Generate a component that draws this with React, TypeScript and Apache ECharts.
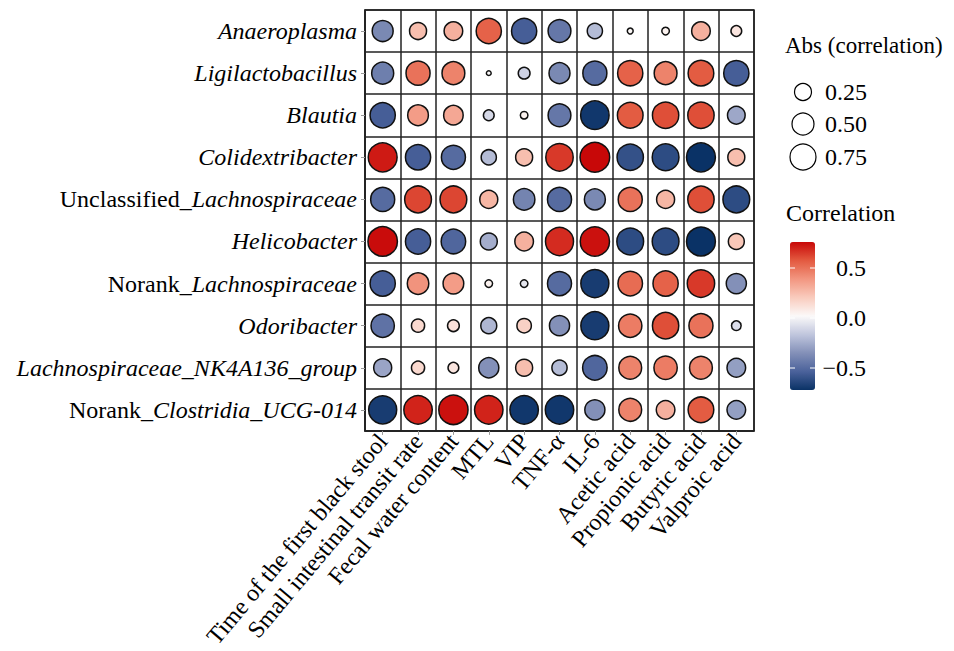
import React, { useEffect, useRef } from "react";
import * as echarts from "echarts";

const variables = [
  "Time of the first black stool",
  "Small intestinal transit rate",
  "Fecal water content",
  "MTL",
  "VIP",
  "TNF-α",
  "IL-6",
  "Acetic acid",
  "Propionic acid",
  "Butyric acid",
  "Valproic acid",
];

const taxa = [
  "Anaeroplasma",
  "Ligilactobacillus",
  "Blautia",
  "Colidextribacter",
  "Unclassified_Lachnospiraceae",
  "Helicobacter",
  "Norank_Lachnospiraceae",
  "Odoribacter",
  "Lachnospiraceae_NK4A136_group",
  "Norank_Clostridia_UCG-014",
];

// correlation per taxon (rows), columns in `variables` order
const rAnaeroplasma = [-0.38, 0.25, 0.3, 0.55, -0.55, -0.45, -0.2, 0.03, 0.05, 0.3, 0.1];
const rLigilactobacillus = [-0.42, 0.5, 0.45, 0.02, -0.12, -0.38, -0.5, 0.55, 0.45, 0.57, -0.55];
const rBlautia = [-0.55, 0.37, 0.33, -0.1, 0.05, -0.45, -0.7, 0.57, 0.6, 0.6, -0.27];
const rColidextribacter = [0.72, -0.55, -0.5, -0.2, 0.25, 0.65, 0.76, -0.6, -0.62, -0.72, 0.25];
const rUnclLachno = [-0.5, 0.62, 0.62, 0.28, -0.4, -0.5, -0.38, 0.5, 0.28, 0.6, -0.62];
const rHelicobacter = [0.75, -0.55, -0.52, -0.25, 0.3, 0.68, 0.74, -0.62, -0.62, -0.72, 0.22];
const rNorankLachno = [-0.55, 0.4, 0.37, 0.05, -0.05, -0.5, -0.68, 0.52, 0.55, 0.65, -0.35];
const rOdoribacter = [-0.47, 0.15, 0.12, -0.22, 0.18, -0.35, -0.68, 0.47, 0.6, 0.5, -0.08];
const rNK4A136 = [-0.28, 0.15, 0.1, -0.35, 0.25, -0.2, -0.52, 0.45, 0.47, 0.45, -0.3];
const rClostridia = [-0.68, 0.7, 0.74, 0.7, -0.7, -0.7, -0.35, 0.45, 0.3, 0.57, -0.3];

const rows = [
  rAnaeroplasma,
  rLigilactobacillus,
  rBlautia,
  rColidextribacter,
  rUnclLachno,
  rHelicobacter,
  rNorankLachno,
  rOdoribacter,
  rNK4A136,
  rClostridia,
];

const sizeLegendValues = [0.25, 0.5, 0.75];
const colorTicks = [0.5, 0.0, -0.5];
const colorMin = -0.72;
const colorMax = 0.76;

const FONT = "Liberation Serif";
const FS = 24;

export default function App() {
  const ref = useRef<HTMLDivElement>(null);

  useEffect(() => {
    if (!ref.current) return;
    const chart = echarts.init(ref.current, null, { renderer: "svg" });

    const data: number[][] = [];
    rows.forEach((row, yi) => {
      row.forEach((v, xi) => data.push([xi, yi, v]));
    });

    const sizeOf = (v: number) => 34 * Math.sqrt(Math.abs(v));

    const barTop = 242;
    const barH = 148;
    const barLeft = 790;
    const barW = 25;
    const yOf = (v: number) => barTop + ((colorMax - v) / (colorMax - colorMin)) * barH;

    const graphics: any[] = [
      {
        type: "text",
        x: 785,
        y: 45,
        style: {
          text: "Abs (correlation)",
          font: `23px "${FONT}"`,
          fill: "#000",
          verticalAlign: "middle",
          textVerticalAlign: "middle",
        },
      },
      {
        type: "text",
        x: 786,
        y: 213,
        style: {
          text: "Correlation",
          font: `${FS}px "${FONT}"`,
          fill: "#000",
          verticalAlign: "middle",
          textVerticalAlign: "middle",
        },
      },
    ];
    const sizeLegendY = [92, 124, 157];
    const sizeLegendD = [17, 22, 26];
    sizeLegendValues.forEach((v, i) => {
      graphics.push({
        type: "circle",
        shape: { cx: 803, cy: sizeLegendY[i], r: sizeLegendD[i] / 2 },
        style: { fill: "#fff", stroke: "#000", lineWidth: 1.2 },
      });
      graphics.push({
        type: "text",
        x: 825,
        y: sizeLegendY[i],
        style: {
          text: v.toFixed(2),
          font: `${FS}px "${FONT}"`,
          fill: "#000",
          textVerticalAlign: "middle",
          verticalAlign: "middle",
        },
      });
    });
    colorTicks.forEach((v) => {
      const y = yOf(v);
      graphics.push({
        type: "line",
        shape: { x1: barLeft, y1: y, x2: barLeft + 5, y2: y },
        style: { stroke: "#fff", lineWidth: 1 },
        z: 100,
      });
      graphics.push({
        type: "line",
        shape: { x1: barLeft + barW - 5, y1: y, x2: barLeft + barW, y2: y },
        style: { stroke: "#fff", lineWidth: 1 },
        z: 100,
      });
      graphics.push({
        type: "text",
        x: 866,
        y: y,
        style: {
          text: (v < 0 ? "\u2212" : "") + Math.abs(v).toFixed(1),
          font: `${FS}px "${FONT}"`,
          fill: "#000",
          align: "right",
          textAlign: "right",
          verticalAlign: "middle",
          textVerticalAlign: "middle",
        },
      });
    });

    const yLabel = (name: string) => {
      const m = name.match(/^(Unclassified_|Norank_)(.*)$/);
      if (m) return `{n|${m[1]}}{i|${m[2]}}`;
      return `{i|${name}}`;
    };

    chart.setOption({
      animation: false,
      grid: {
        left: 365,
        top: 10,
        width: 389,
        height: 422,
        show: true,
        borderColor: "#222",
        borderWidth: 1.5,
      },
      xAxis: {
        type: "category",
        data: variables,
        boundaryGap: true,
        axisLine: { show: true, lineStyle: { color: "#222", width: 1.5 } },
        axisTick: { show: true, alignWithLabel: true, length: 4, lineStyle: { color: "#999" } },
        splitLine: { show: true, interval: 0, lineStyle: { color: "#222", width: 1.5 } },
        axisLabel: {
          interval: 0,
          rotate: 50,
          fontFamily: FONT,
          fontSize: FS,
          color: "#000",
          margin: 6,
        },
      },
      yAxis: {
        type: "category",
        data: taxa,
        inverse: true,
        boundaryGap: true,
        axisLine: { show: true, lineStyle: { color: "#222", width: 1.5 } },
        axisTick: { show: true, alignWithLabel: true, length: 4, lineStyle: { color: "#999" } },
        splitLine: { show: true, interval: 0, lineStyle: { color: "#222", width: 1.5 } },
        axisLabel: {
          interval: 0,
          margin: 8,
          formatter: yLabel,
          rich: {
            i: { fontFamily: FONT, fontSize: FS, fontStyle: "italic", color: "#000" },
            n: { fontFamily: FONT, fontSize: FS, color: "#000" },
          },
        },
      },
      visualMap: {
        type: "continuous",
        dimension: 2,
        min: colorMin,
        max: colorMax,
        calculable: false,
        show: true,
        left: barLeft,
        top: barTop,
        itemWidth: barW,
        itemHeight: barH,
        padding: 0,
        text: ["", ""],
        showLabel: false,
        inRange: {
          color: [
            "#0a3266",
            "#4b629b",
            "#8390b8",
            "#c0c6dd",
            "#fbf9f9",
            "#f9cbbd",
            "#f29680",
            "#e35a40",
            "#c80808",
          ],
        },
      },
      series: [
        {
          type: "scatter",
          data,
          symbol: "circle",
          symbolSize: (val: number[]) => sizeOf(val[2]),
          itemStyle: { borderColor: "#111", borderWidth: 1.5, opacity: 1 },
          z: 5,
        },
      ],
      graphic: graphics,
    });

    return () => chart.dispose();
  }, []);

  return <div ref={ref} style={{ width: 954, height: 651, margin: -8 }} />;
}
